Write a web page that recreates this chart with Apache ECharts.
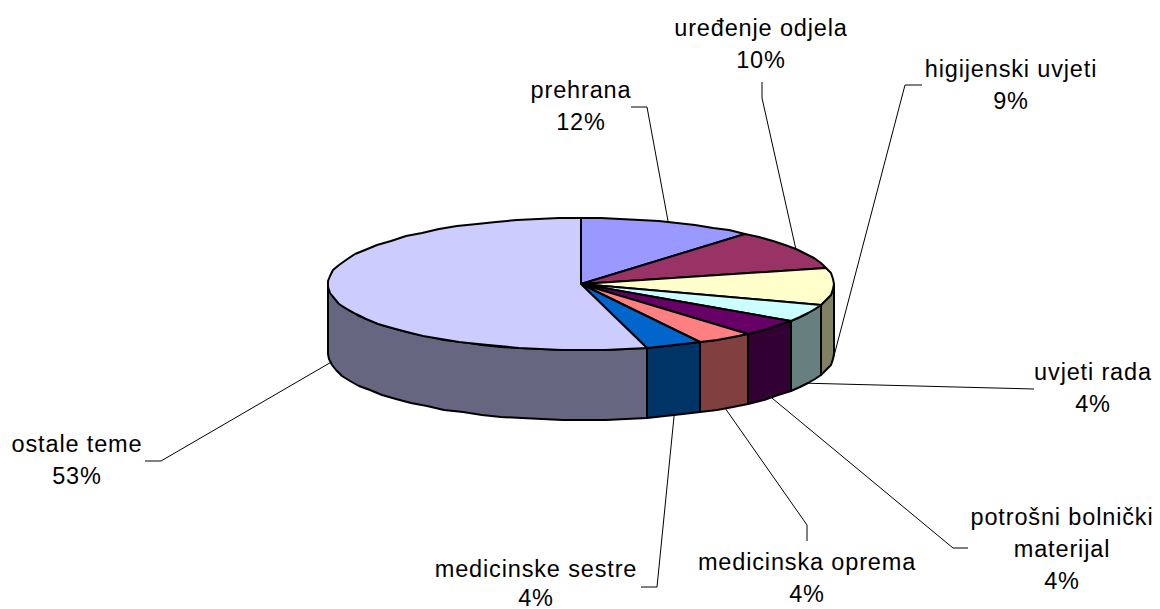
<!DOCTYPE html>
<html>
<head>
<meta charset="utf-8">
<title>Teme</title>
<style>
    html, body { margin: 0; padding: 0; background: #fff; }
    #chart { width: 1160px; height: 609px; }
    /* the labels in the original are small and widely spaced */
    #chart svg text { letter-spacing: 0.85px; }
</style>
<script src="https://cdn.jsdelivr.net/npm/echarts@6/dist/echarts.min.js"></script>
</head>
<body>
<div id="chart"></div>
<script>
// printed labels
const categories = [
    ['prehrana'],
    ['uređenje odjela'],
    ['higijenski uvjeti'],
    ['uvjeti rada'],
    ['potrošni bolnički', 'materijal'],
    ['medicinska oprema'],
    ['medicinske sestre'],
    ['ostale teme']
]
const percents = [12, 10, 9, 4, 4, 4, 4, 53]
const shares = [11.2, 9.9, 9.1, 4.2, 4.1, 3.7, 3.6, 54.2]

const topColors = ['#9999ff', '#993366', '#ffffcc', '#ccffff', '#660066', '#ff8080', '#0066cc', '#ccccff']
const wallColors = ['#4d4d80', '#4d1a33', '#808066', '#668080', '#330033', '#804040', '#003366', '#666680']

// label centre, line gap and leader elbows, same order as categories
const labelCenters = [[581, 106], [761, 44], [1011, 85], [1093, 388], [1062, 549], [807, 578], [536, 583], [77, 460]]
const lineGaps = [32, 32, 32, 32, 32, 32, 29, 32]
const leaderKnots = [
    [[631, 107], [647, 107]],
    [[762, 82], [762, 98]],
    [[922, 85], [905, 85]],
    [[1034, 389]],
    [[968, 548], [953, 548]],
    [[807, 541], [807, 525]],
    [[641, 587], [657, 587]],
    [[145, 461], [161, 461]]
]

const cx = 581, cy = 284, rx = 253, ry = 66, depth = 70
const total = shares.reduce((a, b) => a + b, 0)

function angleAt (i) {
    let sum = 0
    for (let k = 0; k < i; k++) sum += shares[k]
    return sum / total * 2 * Math.PI
}

function rimPoint (angle, drop) {
    return [cx + rx * Math.sin(angle), cy - ry * Math.cos(angle) + drop]
}

// the original outline is slightly faceted, so keep whole pixels and short steps
function arc (from, to, drop) {
    let pts = []
    let steps = Math.max(1, Math.ceil((to - from) / (5 * Math.PI / 180)))
    for (let s = 0; s <= steps; s++) {
        let p = rimPoint(from + (to - from) * s / steps, drop)
        pts.push([Math.round(p[0]), Math.round(p[1])])
    }
    return pts
}

function renderSlice (params, api) {
    let i = api.value(0)
    let a0 = angleAt(i), a1 = angleAt(i + 1)
    let children = []
    let w0 = Math.max(a0, Math.PI / 2), w1 = Math.min(a1, Math.PI * 1.5)
    if (w1 > w0) {
        children.push({
            type: 'polygon',
            shape: { points: arc(w0, w1, 0).concat(arc(w0, w1, depth).reverse()) },
            style: { fill: wallColors[i], stroke: '#000', lineWidth: 2, lineJoin: 'round' }
        })
    }
    children.push({
        type: 'polygon',
        shape: { points: [[cx, cy]].concat(arc(a0, a1, 0)) },
        style: { fill: topColors[i], stroke: '#000', lineWidth: 2, lineJoin: 'round' }
    })
    return { type: 'group', children: children }
}

function renderLabel (params, api) {
    let i = api.value(0)
    let mid = (angleAt(i) + angleAt(i + 1)) / 2
    // back half: leader stops on the top rim, front half: on the bottom of the wall
    let anchor = rimPoint(mid, Math.cos(mid) < 0.05 ? depth : 0)
    let lines = categories[i].concat([percents[i] + '%'])
    let top = labelCenters[i][1] - (lines.length - 1) * lineGaps[i] / 2
    let children = [{
        type: 'polyline',
        shape: { points: leaderKnots[i].concat([anchor]) },
        style: { fill: 'none', stroke: '#000', lineWidth: 1 }
    }]
    lines.forEach(function (line, n) {
        children.push({
            type: 'text',
            style: {
                text: line,
                x: labelCenters[i][0],
                y: top + n * lineGaps[i],
                align: 'center',
                verticalAlign: 'middle',
                fill: '#000',
                font: '23.5px "Liberation Sans", Arial, sans-serif'
            }
        })
    })
    return { type: 'group', children: children }
}

const indices = categories.map((c, i) => [i])

let chart = echarts.init(document.getElementById('chart'), null, { renderer: 'svg' })
chart.setOption({
    backgroundColor: '#fff',
    animation: false,
    series: [
        { type: 'custom', coordinateSystem: 'none', silent: true, data: indices, renderItem: renderLabel, z: 1 },
        { type: 'custom', coordinateSystem: 'none', silent: true, data: indices, renderItem: renderSlice, z: 2 }
    ]
})
</script>
</body>
</html>
